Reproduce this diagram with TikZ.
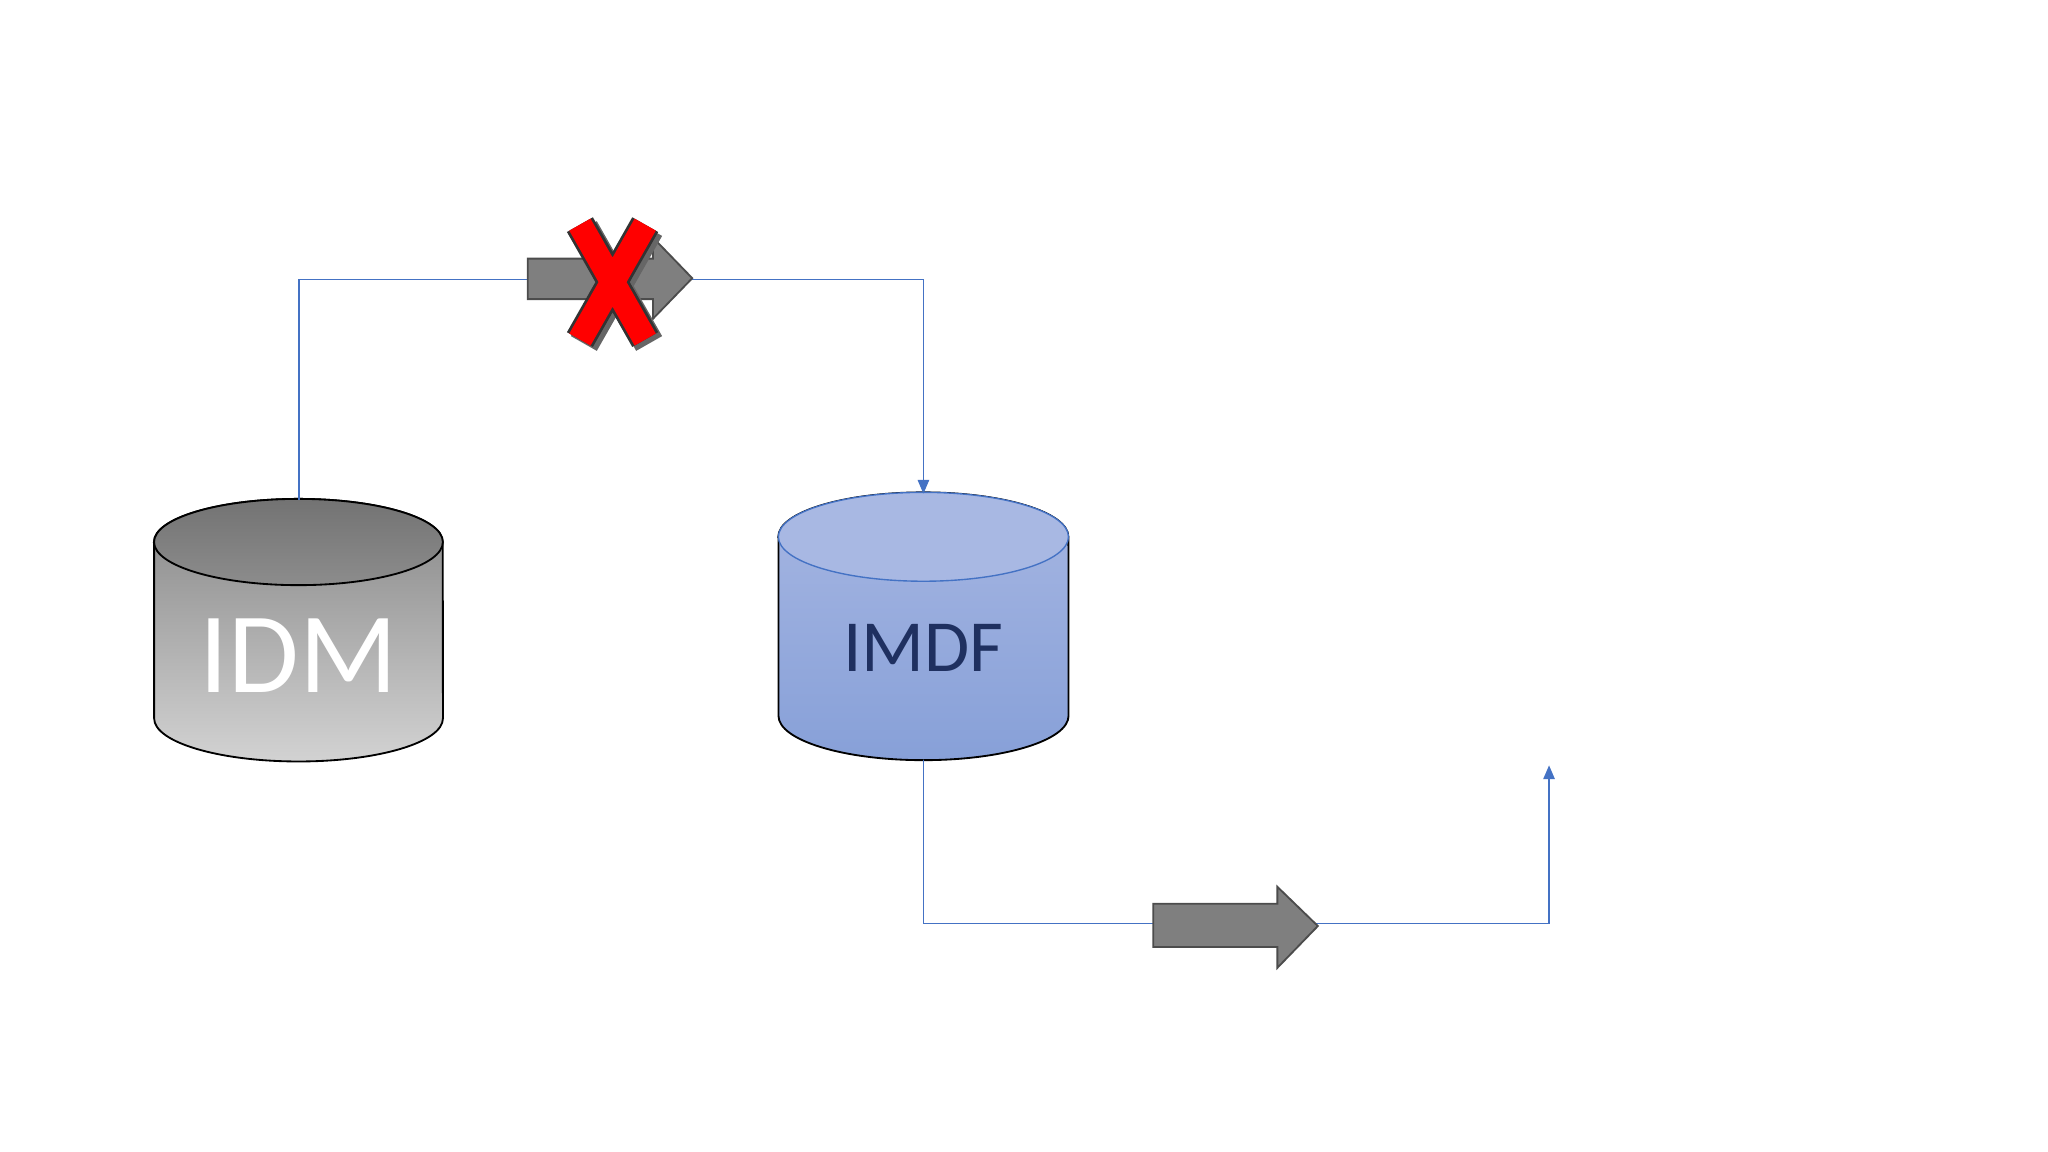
\documentclass[tikz,border=0pt]{standalone}
\usepackage{fontspec}
\setmainfont{Carlito}
\usetikzlibrary{arrows.meta}
\definecolor{conn}{HTML}{4472C4}
\definecolor{arrgray}{HTML}{7F7F7F}
\definecolor{navy}{HTML}{1F3060}
\definecolor{blueA}{HTML}{A6B6E2}
\definecolor{blueB}{HTML}{87A0D8}
\definecolor{blueTop}{HTML}{A8B8E3}
\tikzset{
  conline/.style={draw=conn,line width=0.3pt},
  conarrow/.style={conline,-{Triangle[length=3pt,width=2.5pt]}},
  bigarrow/.style={fill=arrgray,draw=black!70,line width=0.4pt},
}
\begin{document}
\begin{tikzpicture}[x=0.01cm,y=0.01cm]
\useasboundingbox (0,0) rectangle (1568,882);
% IDM cylinder
\shade[top color=gray!95,bottom color=gray!35,draw=black,line width=0.4pt]
  (118,467) -- (118,332) arc[start angle=180,end angle=360,x radius=1.105cm,y radius=0.33cm] -- (339,467) arc[start angle=0,end angle=180,x radius=1.105cm,y radius=0.33cm] -- cycle;
\shade[top color=gray!110,bottom color=gray!90,draw=black,line width=0.4pt] (228.5,467) ellipse[x radius=1.105cm,y radius=0.33cm];
\node[text=white,font=\fontsize{25}{25}\selectfont] (idm) at (228.5,380) {IDM};
\coordinate (idmtop) at (229,499);
% IMDF cylinder
\shade[top color=blueA,bottom color=blueB,draw=black,line width=0.4pt]
  (596,471) -- (596,334) arc[start angle=180,end angle=360,x radius=1.11cm,y radius=0.34cm] -- (818,471) arc[start angle=0,end angle=180,x radius=1.11cm,y radius=0.34cm] -- cycle;
\fill[fill=blueTop,draw=conn,line width=0.3pt] (707,471) ellipse[x radius=1.11cm,y radius=0.34cm];
\node[text=navy,font=\fontsize{16}{16}\selectfont] (imdf) at (707,386) {IMDF};
\coordinate (imdftop) at (707,504);
\coordinate (imdfbot) at (707,300);
% connector 1
\coordinate (c1) at (229,668);
\coordinate (c2) at (707,668);
\draw[conarrow] (idmtop) -- (c1) -- (c2) -- (imdftop);
% connector 2
\coordinate (c3) at (707,175);
\coordinate (c4) at (1186,175);
\coordinate (endc) at (1186,296);
\draw[conarrow] (imdfbot) -- (c3) -- (c4) -- (endc);
% big arrow 1
\draw[bigarrow] (404,684) -- (500,684) -- (500,700) -- (530,669) -- (500,638) -- (500,653) -- (404,653) -- cycle;
% big arrow 2
\draw[bigarrow] (883,190) -- (978,190) -- (978,203) -- (1009,173) -- (978,141) -- (978,157) -- (883,157) -- cycle;
% red X
\begin{scope}[line cap=butt]
\draw[black!60,line width=6.5pt,shift={(3,-3)}] (444,710) -- (494,622) (494,710) -- (444,622);
\draw[black!80,line width=6.5pt] (444,710) -- (494,622) (494,710) -- (444,622);
\draw[red,line width=5.3pt] (444,710) -- (494,622) (494,710) -- (444,622);
\end{scope}
\end{tikzpicture}
\end{document}
